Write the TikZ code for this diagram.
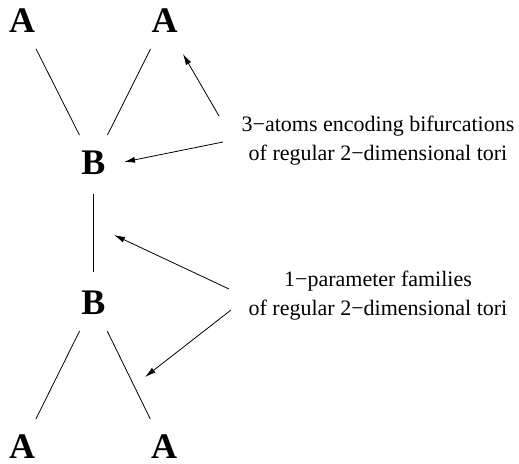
\documentclass[tikz,border=0pt]{standalone}
\usepackage{fontspec}
\setmainfont{Liberation Serif}
\usetikzlibrary{arrows.meta}

\begin{document}
\begin{tikzpicture}[x=1pt, y=-1pt,
	atom/.style={circle, inner sep=0pt, minimum size=62pt,
		font=\fontsize{36}{40}\selectfont\bfseries},
	caption/.style={align=center, font=\fontsize{22}{29}\selectfont},
	pointer/.style={->, >={Latex[length=11pt,width=6pt]}, line width=0.8pt}]

	\useasboundingbox (0,0) rectangle (519,463);

	% the tree of atoms
	\node[atom] (aTL) at (22,21) {A};
	\node[atom] (aTR) at (164.5,21) {A};
	\node[atom] (bUp) at (93.5,163) {B};
	\node[atom] (bLow) at (93.5,303) {B};
	\node[atom] (aBL) at (22,447) {A};
	\node[atom] (aBR) at (164,447) {A};

	\draw[line width=0.8pt] (aTL) -- (bUp);
	\draw[line width=0.8pt] (aTR) -- (bUp);
	\draw[line width=0.8pt] (bUp) -- (bLow);
	\draw[line width=0.8pt] (bLow) -- (aBL);
	\draw[line width=0.8pt] (bLow) -- (aBR);

	% the two captions
	\node[caption] (txtUp) at (378,141)
		{3−atoms encoding bifurcations\\of regular 2−dimensional tori};
	\node[caption] (txtLow) at (378,296)
		{1−parameter families\\of regular 2−dimensional tori};

	\coordinate (fromUpA) at (219,116);
	\coordinate (toUpA)   at (183,54);
	\coordinate (fromUpB) at (223,142);
	\coordinate (toUpB)   at (124,162);
	\coordinate (fromLowA) at (229,289);
	\coordinate (toLowA)   at (114,235);
	\coordinate (fromLowB) at (231,310);
	\coordinate (toLowB)   at (145,377);

	\draw[pointer] (fromUpA) -- (toUpA);
	\draw[pointer] (fromUpB) -- (toUpB);
	\draw[pointer] (fromLowA) -- (toLowA);
	\draw[pointer] (fromLowB) -- (toLowB);

\end{tikzpicture}
\end{document}
